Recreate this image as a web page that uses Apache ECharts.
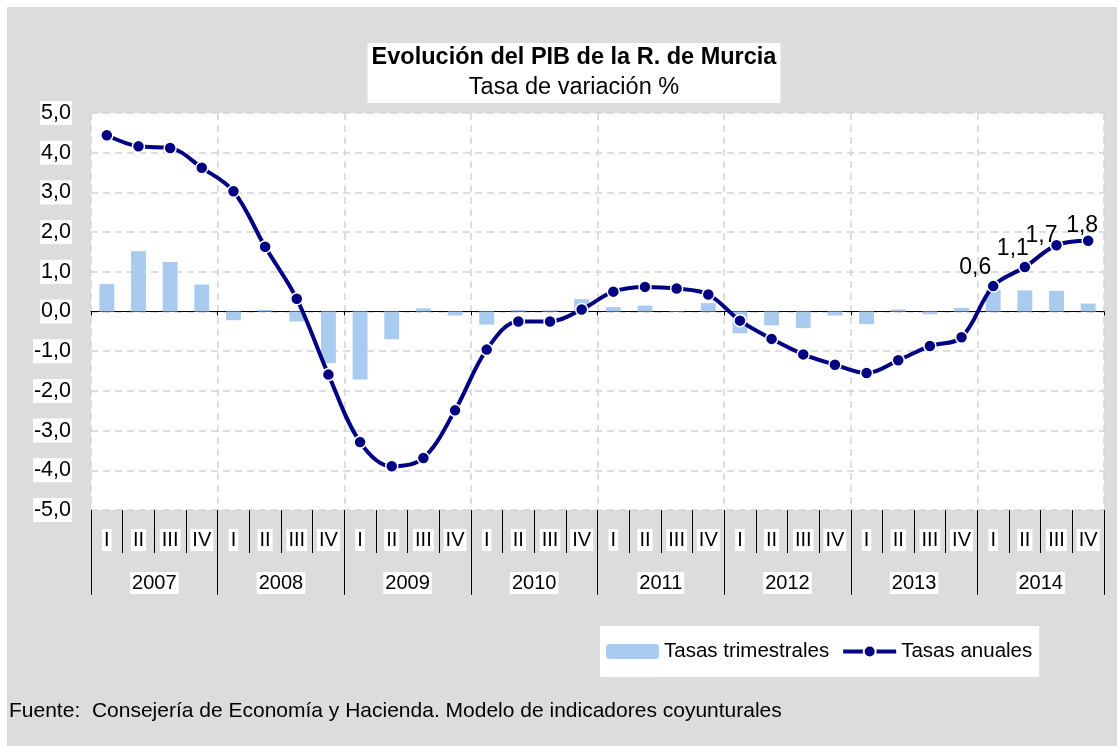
<!DOCTYPE html>
<html>
<head>
<meta charset="utf-8">
<script src="https://cdn.jsdelivr.net/npm/echarts@6/dist/echarts.min.js"></script>
<style>
html,body{margin:0;padding:0;background:#fff;}
#chart{width:1117px;height:746px;}
</style>
</head>
<body>
<div id="chart"></div>
<script>
var years = ['2007','2008','2009','2010','2011','2012','2013','2014'];
var quarterNames = ['I','II','III','IV'];
var quarters = [];
years.forEach(function(y){ quarterNames.forEach(function(q){ quarters.push(q); }); });

var tasasTrimestrales = [0.69,1.52,1.25,0.68, -0.22,0.04,-0.25,-1.30, -1.71,-0.70,0.08,-0.10, -0.33,0.04,0.03,0.31, 0.11,0.15,0.01,0.21, -0.55,-0.35,-0.42,-0.10, -0.32,0.05,-0.07,0.09, 0.55,0.53,0.52,0.20];
var tasasAnuales = [4.44,4.16,4.12,3.62, 3.03,1.63,0.32,-1.59, -3.29,-3.90,-3.69,-2.49, -0.96,-0.25,-0.25,0.05, 0.50,0.62,0.58,0.43, -0.23,-0.69,-1.08,-1.34, -1.55,-1.23,-0.87,-0.65, 0.64,1.12,1.67,1.78];

var FONT = '"Liberation Sans", Arial, sans-serif';
var fmt = function(v){ return Number(v).toFixed(1).replace('.', ','); };

var labelOffsets = {28:[-18,5], 29:[-12,5], 30:[-15,14], 31:[-6,8]};
var lineData = tasasAnuales.map(function(v, i){
  if (labelOffsets[i]) {
    return {value: v, label: {show: true, position: 'top', distance: 5, offset: labelOffsets[i],
      formatter: function(p){ return fmt(p.value); }, color: '#000', fontSize: 23, fontFamily: FONT}};
  }
  return v;
});

var chart = echarts.init(document.getElementById('chart'), null, {renderer: 'canvas'});
var option = {
  backgroundColor: '#fff',
  animation: false,
  textStyle: {fontFamily: FONT},
  graphic: [
    {type: 'rect', z: -100, shape: {x: 7, y: 7, width: 1110, height: 739}, style: {fill: '#dcdcdc'}},
    {type: 'text', left: 9, top: 701, style: {text: 'Fuente:  Consejería de Economía y Hacienda. Modelo de indicadores coyunturales',
      fill: '#000', font: '21px ' + FONT}}
  ],
  title: {
    text: 'Evolución del PIB de la R. de Murcia',
    subtext: 'Tasa de variación %',
    left: 570, top: 43, textAlign: 'center',
    backgroundColor: '#fff',
    padding: [1, 4, 1, 4],
    itemGap: 2,
    textStyle: {fontSize: 23.5, lineHeight: 28, fontWeight: 'bold', color: '#000', fontFamily: FONT},
    subtextStyle: {fontSize: 23.5, lineHeight: 28, color: '#000', fontFamily: FONT}
  },
  legend: {
    left: 600, top: 626,
    backgroundColor: '#fff',
    padding: [15, 7, 15, 6],
    itemWidth: 53, itemHeight: 15,
    itemGap: 12,
    textStyle: {fontSize: 20.5, color: '#000', fontFamily: FONT},
    lineStyle: {width: 4},
    data: ['Tasas trimestrales', 'Tasas anuales']
  },
  grid: {left: 91, right: 13, top: 113, bottom: 236, show: true, backgroundColor: '#fff', borderWidth: 0, containLabel: false},
  xAxis: [
    {type: 'category', data: quarters, position: 'bottom', axisLine: {show: false, onZero: false},
     axisTick: {show: true, interval: 0, length: 43, lineStyle: {color: '#000', width: 1}},
     axisLabel: {interval: 0, margin: 19, fontSize: 20, color: '#000', fontFamily: FONT, backgroundColor: '#fff', padding: [1, 2]},
     splitLine: {show: false}},
    {type: 'category', data: years, position: 'bottom', axisLine: {show: false, onZero: false},
     axisTick: {show: true, interval: 0, length: 85, lineStyle: {color: '#000', width: 1}},
     axisLabel: {interval: 0, margin: 62, fontSize: 20, color: '#000', fontFamily: FONT, backgroundColor: '#fff', padding: [1, 2]},
     splitLine: {show: false}},
    {type: 'category', data: years, position: 'bottom', axisLine: {show: true, onZero: true, lineStyle: {color: '#000', width: 1}},
     axisTick: {show: true, interval: 0, length: 4, lineStyle: {color: '#000', width: 1}},
     axisLabel: {show: false},
     splitLine: {show: true, interval: 0, lineStyle: {color: '#d4d4d4', width: 1.5, type: [7, 5]}}}
  ],
  yAxis: {
    type: 'value', min: -5, max: 5, interval: 1,
    axisLine: {show: false}, axisTick: {show: false},
    axisLabel: {formatter: fmt, fontSize: 21.5, color: '#000', fontFamily: FONT, margin: 19, backgroundColor: '#fff', padding: [1, 1]},
    splitLine: {show: true, lineStyle: {color: '#d4d4d4', width: 1.5, type: [7, 5]}}
  },
  series: [
    {name: 'Tasas trimestrales', type: 'bar', xAxisIndex: 0, yAxisIndex: 0, data: tasasTrimestrales,
     barWidth: '47%', itemStyle: {color: '#a9cbf0'}, z: 2},
    {name: 'Tasas anuales', type: 'line', xAxisIndex: 0, yAxisIndex: 0, data: lineData,
     smooth: 0.35, symbol: 'circle', symbolSize: 12,
     lineStyle: {color: '#000080', width: 4},
     itemStyle: {color: '#000080', borderColor: '#fff', borderWidth: 1.5}, z: 5}
  ]
};
chart.setOption(option);
</script>
</body>
</html>
